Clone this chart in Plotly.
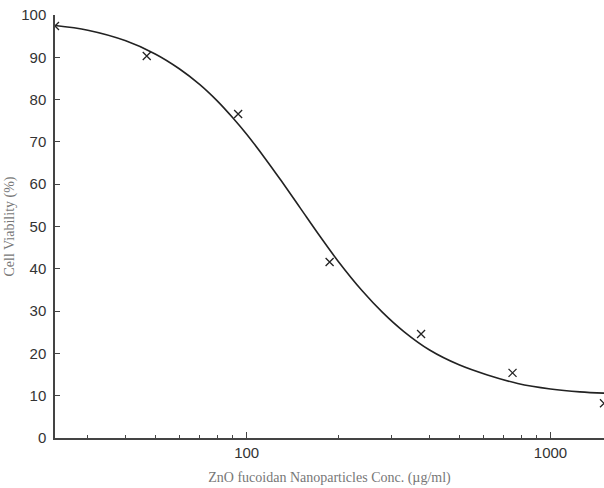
import plotly.graph_objects as go

# measured data points (concentration µg/ml, viability %)
conc = [23.4, 46.9, 93.75, 187.5, 375, 750, 1500]
viability = [97.4, 90.3, 76.6, 41.6, 24.6, 15.4, 8.2]

# fitted curve
curve_x = [23.4, 30, 40, 50, 60, 70, 80, 90, 100, 115, 130, 150, 175, 200, 240, 280, 330, 400, 500, 620, 780, 1000, 1250, 1500]
curve_y = [97.5, 96.4, 93.9, 90.8, 87.3, 83.6, 79.7, 75.7, 71.8, 66.1, 60.8, 54.4, 47.5, 41.8, 34.8, 29.7, 25.1, 20.8, 17.3, 14.9, 12.9, 11.6, 10.9, 10.6]

x_major = [100, 1000]
x_minor = [30, 40, 50, 60, 70, 80, 90, 200, 300, 400, 500, 600, 700, 800, 900]
y_ticks = [0, 10, 20, 30, 40, 50, 60, 70, 80, 90, 100]

fig = go.Figure()
fig.add_trace(go.Scatter(x=curve_x, y=curve_y, mode="lines",
                         line=dict(color="#222222", width=1.6, shape="spline", smoothing=1.0),
                         showlegend=False, hoverinfo="skip"))
fig.add_trace(go.Scatter(x=conc, y=viability, mode="markers",
                         marker=dict(symbol="x-thin", size=8, line=dict(color="#222222", width=1.3)),
                         showlegend=False))

axis_col = "#444444"
fig.update_layout(
    width=604, height=488,
    margin=dict(l=55, r=0, t=15, b=50),
    plot_bgcolor="white", paper_bgcolor="white",
    xaxis=dict(type="log", range=[1.3692, 3.1761], showgrid=False, zeroline=False,
               showline=True, linecolor=axis_col, linewidth=1.5,
               ticks="inside", ticklen=6, tickcolor=axis_col, tickwidth=1.2,
               tickvals=x_major, ticktext=[str(v) for v in x_major],
               tickfont=dict(family="Liberation Sans, Arial", size=15, color="#333333"),
               minor=dict(ticks="inside", ticklen=3, tickcolor=axis_col, tickwidth=1.2, tickvals=x_minor, showgrid=False),
               title=dict(text="ZnO fucoidan Nanoparticles Conc. (µg/ml)", standoff=12,
                          font=dict(family="Liberation Serif, Times New Roman", size=14, color="#777777"))),
    yaxis=dict(range=[0, 100], showgrid=False, zeroline=False,
               showline=True, linecolor=axis_col, linewidth=1.5,
               ticks="inside", ticklen=5, tickcolor=axis_col, tickwidth=1.2,
               tickvals=y_ticks, ticklabelstandoff=4,
               tickfont=dict(family="Liberation Sans, Arial", size=15, color="#333333"),
               title=dict(text="Cell Viability (%)", standoff=3,
                          font=dict(family="Liberation Serif, Times New Roman", size=14, color="#777777"))),
)

fig.write_html("out.html")
